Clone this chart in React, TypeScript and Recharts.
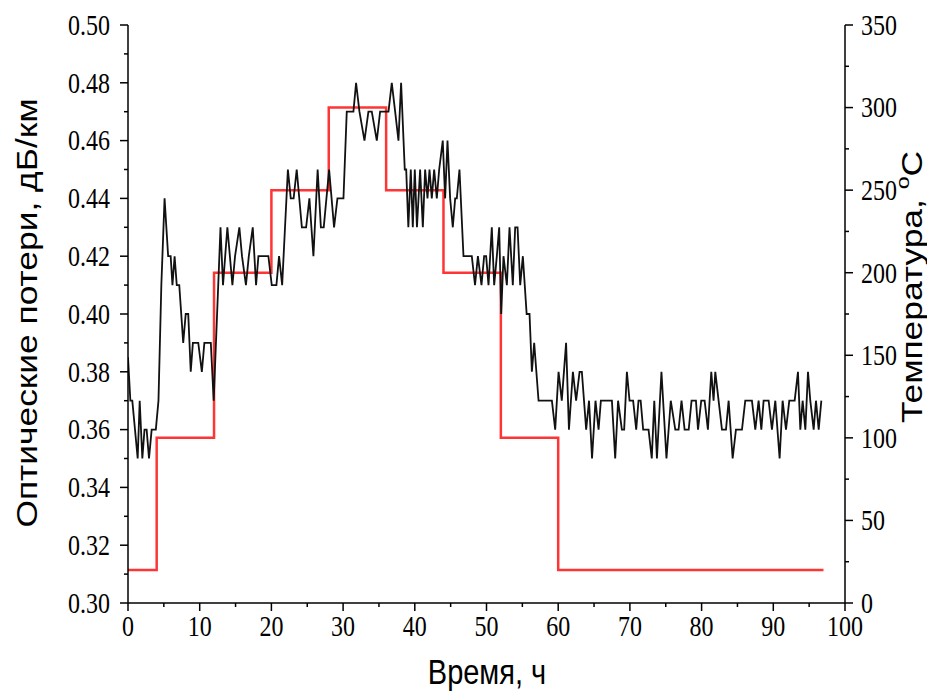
import { LineChart, Line, XAxis, YAxis, Label } from 'recharts';

// loss readings: [time, h ; loss, dB/km]
const lossReadings: [number, number][] = [
  [0, 0.385], [0.33, 0.37], [0.6, 0.37], [1.35, 0.35], [1.63, 0.37], [2.0, 0.35], [2.3, 0.36], [2.6, 0.36],
  [2.93, 0.35], [3.3, 0.36], [3.88, 0.36], [4.25, 0.37], [4.65, 0.41], [5.1, 0.44], [5.6, 0.42], [5.95, 0.42],
  [6.2, 0.41], [6.5, 0.42], [6.8, 0.41], [7.15, 0.41], [7.7, 0.39], [8.05, 0.4], [8.4, 0.4], [8.75, 0.38],
  [9.05, 0.39], [9.8, 0.39], [10.3, 0.38], [10.65, 0.39], [11.55, 0.39], [11.95, 0.37], [12.9, 0.43], [13.25, 0.41],
  [13.86, 0.43], [14.56, 0.41], [14.93, 0.42], [15.53, 0.43], [15.9, 0.42], [16.45, 0.41], [16.85, 0.42], [17.4, 0.43],
  [17.86, 0.41], [18.19, 0.42], [19.58, 0.42], [20.05, 0.41], [20.7, 0.41], [21.07, 0.42], [21.5, 0.41], [22.3, 0.45],
  [22.7, 0.44], [23.1, 0.44], [23.53, 0.45], [24.25, 0.43], [24.84, 0.43], [25.3, 0.44], [25.86, 0.42], [26.45, 0.45],
  [26.9, 0.43], [27.3, 0.43], [28.05, 0.45], [28.74, 0.43], [29.21, 0.44], [30.05, 0.44], [30.51, 0.47], [31.44, 0.47],
  [31.81, 0.48], [32.28, 0.47], [32.98, 0.46], [33.53, 0.47], [34.0, 0.47], [34.7, 0.46], [35.16, 0.47], [36.33, 0.47],
  [36.79, 0.48], [37.26, 0.47], [37.72, 0.46], [38.09, 0.48], [38.6, 0.45], [38.8, 0.45], [39.1, 0.43], [39.44, 0.45],
  [39.72, 0.43], [40.0, 0.45], [40.3, 0.43], [40.74, 0.45], [41.12, 0.43], [41.44, 0.45], [41.77, 0.44], [42.05, 0.45],
  [42.37, 0.44], [42.7, 0.45], [43.07, 0.44], [43.4, 0.45], [43.9, 0.46], [44.23, 0.44], [44.56, 0.46], [44.93, 0.44],
  [45.3, 0.43], [45.63, 0.44], [45.86, 0.44], [46.23, 0.45], [46.79, 0.42], [47.95, 0.42], [48.4, 0.41], [48.8, 0.42],
  [49.3, 0.41], [49.67, 0.42], [49.95, 0.42], [50.28, 0.41], [50.74, 0.43], [51.07, 0.41], [51.44, 0.42], [51.77, 0.43],
  [52.05, 0.4], [52.37, 0.42], [52.84, 0.41], [53.21, 0.43], [53.67, 0.41], [54.0, 0.43], [54.33, 0.43], [54.7, 0.41],
  [55.07, 0.42], [55.6, 0.4], [56.0, 0.4], [56.33, 0.38], [56.65, 0.39], [57.26, 0.37], [59.12, 0.37], [59.58, 0.36],
  [60.05, 0.38], [60.5, 0.37], [61.1, 0.39], [61.5, 0.36], [62.05, 0.38], [62.5, 0.37], [62.98, 0.38], [63.3, 0.38],
  [63.9, 0.36], [64.3, 0.37], [64.72, 0.35], [65.2, 0.37], [65.63, 0.36], [65.95, 0.37], [67.49, 0.37], [67.95, 0.35],
  [68.35, 0.37], [68.88, 0.36], [69.2, 0.36], [69.58, 0.38], [69.95, 0.37], [70.45, 0.37], [70.88, 0.36], [71.2, 0.37],
  [71.5, 0.37], [71.85, 0.36], [72.6, 0.36], [73.05, 0.35], [73.4, 0.37], [73.77, 0.35], [74.4, 0.38], [75.1, 0.35],
  [75.7, 0.37], [76.33, 0.36], [76.79, 0.36], [77.2, 0.37], [77.63, 0.36], [78.2, 0.36], [78.6, 0.37], [79.21, 0.37],
  [79.5, 0.36], [79.95, 0.37], [80.42, 0.37], [80.88, 0.36], [81.35, 0.38], [81.67, 0.37], [81.91, 0.38], [82.37, 0.37],
  [82.84, 0.36], [83.4, 0.36], [83.77, 0.37], [84.33, 0.35], [84.79, 0.36], [85.63, 0.36], [86.09, 0.37], [87.02, 0.37],
  [87.49, 0.36], [87.95, 0.37], [88.33, 0.36], [88.65, 0.37], [89.35, 0.37], [89.81, 0.36], [90.28, 0.37], [90.88, 0.35],
  [91.3, 0.37], [91.77, 0.36], [92.23, 0.37], [92.98, 0.37], [93.44, 0.38], [93.77, 0.36], [94.09, 0.37], [94.47, 0.36],
  [94.84, 0.38], [95.16, 0.37], [95.63, 0.36], [95.95, 0.37], [96.33, 0.36], [96.7, 0.37],
];

// temperature program: [time, h ; temperature, °C]
const temperatureSteps: [number, number][] = [
  [0, 20], [4, 100], [12, 200], [20, 250], [28, 300], [36, 250], [44, 200], [52, 100], [60, 20], [97, 20],
];

const timeTicks = [0, 5, 10, 15, 20, 25, 30, 35, 40, 45, 50, 55, 60, 65, 70, 75, 80, 85, 90, 95, 100];
const lossTicks = [0.3, 0.31, 0.32, 0.33, 0.34, 0.35, 0.36, 0.37, 0.38, 0.39, 0.4, 0.41, 0.42, 0.43, 0.44, 0.45, 0.46, 0.47, 0.48, 0.49, 0.5];
const tempTicks = [0, 25, 50, 75, 100, 125, 150, 175, 200, 225, 250, 275, 300, 325, 350];

const lossData = lossReadings.map(([t, loss]) => ({ t, loss }));
const tempData = temperatureSteps.map(([t, temp]) => ({ t, temp }));

const SERIF = '"Liberation Serif", "Times New Roman", serif';
const SANS = '"Liberation Sans", Arial, sans-serif';
const TICK_FONT = 24;
const TITLE_FONT = 29;
// the source figure is a bit taller than wide, glyphs included
const STRETCH = 1.22;

const serifStyle = { fontFamily: SERIF, fontSize: TICK_FONT };
const sansStyle = { fontFamily: SANS, fontSize: TITLE_FONT };

function BottomTick({ x, y, payload }: any) {
  const major = payload.value % 10 === 0;
  return (
    <g>
      <line x1={x} x2={x} y1={y} y2={y + (major ? 8 : 4)} stroke="#000" strokeWidth={1.5} />
      {major && (
        <text transform={`translate(${x}, ${y + 23}) scale(1, ${STRETCH})`} textAnchor="middle" dominantBaseline="central" style={serifStyle} fill="#000">
          {payload.value}
        </text>
      )}
    </g>
  );
}

function LeftTick({ x, y, payload }: any) {
  const major = Math.round(payload.value * 100) % 2 === 0;
  return (
    <g>
      <line x1={x} x2={x - (major ? 8 : 4)} y1={y} y2={y} stroke="#000" strokeWidth={1.5} />
      {major && (
        <text transform={`translate(${x - 18}, ${y}) scale(1, ${STRETCH})`} textAnchor="end" dominantBaseline="central" style={serifStyle} fill="#000">
          {payload.value.toFixed(2)}
        </text>
      )}
    </g>
  );
}

function RightTick({ x, y, payload }: any) {
  const major = payload.value % 50 === 0;
  return (
    <g>
      <line x1={x} x2={x + (major ? 8 : 4)} y1={y} y2={y} stroke="#000" strokeWidth={1.5} />
      {major && (
        <text transform={`translate(${x + 16}, ${y}) scale(1, ${STRETCH})`} textAnchor="start" dominantBaseline="central" style={serifStyle} fill="#000">
          {payload.value}
        </text>
      )}
    </g>
  );
}

const XTitle = () => (
  <text transform={`translate(479, 664) scale(1, ${STRETCH})`} textAnchor="middle" dominantBaseline="central" style={sansStyle} fill="#000">
    Время, ч
  </text>
);

const LossTitle = () => (
  <text transform={`translate(19, 305) scale(1, ${STRETCH}) rotate(-90)`} textAnchor="middle" dominantBaseline="central" style={sansStyle} fill="#000">
    Оптические потери, дБ/км
  </text>
);

const TempTitle = () => (
  <text transform={`translate(904, 279) scale(1, ${STRETCH}) rotate(-90)`} textAnchor="middle" dominantBaseline="central" style={sansStyle} fill="#000">
    Температура, <tspan fontSize={19} dy={-10}>o</tspan><tspan dy={10}>C</tspan>
  </text>
);

export default function App() {
  return (
    <LineChart width={927} height={685} margin={{ top: 17, right: 0, bottom: 0, left: 0 }}>
      <XAxis
        type="number"
        dataKey="t"
        domain={[0, 100]}
        ticks={timeTicks}
        interval={0}
        height={90}
        tickSize={0}
        tickMargin={0}
        tickLine={false}
        axisLine={{ stroke: '#000', strokeWidth: 1.5 }}
        tick={<BottomTick />}
        allowDataOverflow
      >
        <Label content={<XTitle />} />
      </XAxis>
      <YAxis
        yAxisId="loss"
        domain={[0.3, 0.5]}
        ticks={lossTicks}
        interval={0}
        width={120}
        tickSize={0}
        tickMargin={0}
        tickLine={false}
        axisLine={{ stroke: '#000', strokeWidth: 1.5 }}
        tick={<LeftTick />}
        allowDataOverflow
      >
        <Label content={<LossTitle />} />
      </YAxis>
      <YAxis
        yAxisId="temp"
        orientation="right"
        domain={[0, 350]}
        ticks={tempTicks}
        interval={0}
        width={90}
        tickSize={0}
        tickMargin={0}
        tickLine={false}
        axisLine={{ stroke: '#000', strokeWidth: 1.5 }}
        tick={<RightTick />}
        allowDataOverflow
      >
        <Label content={<TempTitle />} />
      </YAxis>
      <Line
        yAxisId="temp"
        data={tempData}
        dataKey="temp"
        type="stepAfter"
        stroke="#ff3535"
        strokeWidth={2.5}
        dot={false}
        isAnimationActive={false}
      />
      <Line
        yAxisId="loss"
        data={lossData}
        dataKey="loss"
        type="linear"
        stroke="#111"
        strokeWidth={1.8}
        dot={false}
        isAnimationActive={false}
      />
    </LineChart>
  );
}
